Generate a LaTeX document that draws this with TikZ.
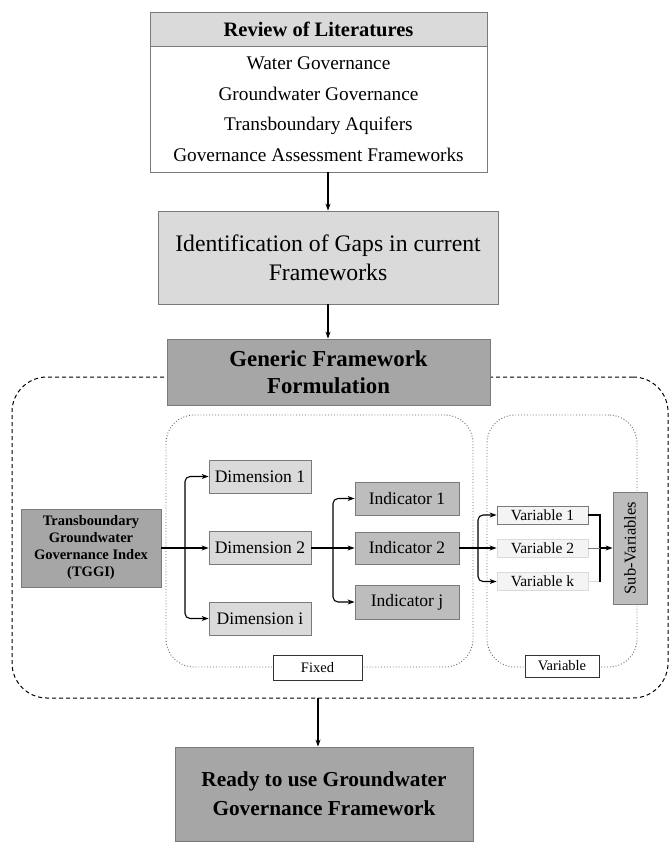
\documentclass[tikz,border=0pt]{standalone}
\usepackage{fontspec}
\setmainfont{Liberation Serif}
\usetikzlibrary{arrows.meta}
\definecolor{gLight}{HTML}{DADADA}
\definecolor{gMid}{HTML}{BDBDBD}
\definecolor{gDark}{HTML}{A6A6A6}
\definecolor{gPale}{HTML}{F4F4F4}
\definecolor{gLine}{HTML}{7A7A7A}
\begin{document}
\begin{tikzpicture}[x=1pt,y=-1pt,
  box/.style={draw=gLine, line width=0.8pt, inner sep=0pt, align=center, text=black},
  arr/.style={-{Stealth[length=7pt,width=5pt]}, line width=1.1pt},
  ln/.style={line width=1.1pt},
  fs/.style={font=\fontsize{#1}{20}\selectfont}
]
\useasboundingbox (0,0) rectangle (670,843);

% Outer dashed frame
\node[draw=black, line width=1pt, dash pattern=on 4pt off 3pt, rounded corners=35pt,
      minimum width=656pt, minimum height=321pt, inner sep=0pt] (outer) at (340,537.5) {};
% Inner dotted frames
\node[draw=black!60, line width=0.9pt, dotted, rounded corners=28pt,
      minimum width=307pt, minimum height=252pt, inner sep=0pt] (fixedframe) at (319.5,541) {};
\node[draw=black!60, line width=0.9pt, dotted, rounded corners=28pt,
      minimum width=150pt, minimum height=252pt, inner sep=0pt] (varframe) at (562,541) {};

% Review of literatures
\node[box, fill=gLight, minimum width=337pt, minimum height=34pt,
      font=\fontsize{20.5}{22}\selectfont\bfseries] (rev) at (318.5,29) {Review of Literatures};
\node[box, fill=white, minimum width=337pt, minimum height=126pt,
      font=\fontsize{19.3}{30.5}\selectfont] (revb) at (318.5,109)
  {Water Governance\\Groundwater Governance\\Transboundary Aquifers\\Governance Assessment Frameworks};

% Identification
\node[box, fill=gLight, minimum width=340pt, minimum height=93pt,
      font=\fontsize{23.7}{29}\selectfont] (ident) at (328,257.5)
  {Identification of Gaps in current\\Frameworks};

% Generic
\node[box, fill=gDark, minimum width=323pt, minimum height=66pt,
      font=\fontsize{22.8}{27}\selectfont\bfseries] (gen) at (328.5,372)
  {Generic Framework\\Formulation};

% TGGI
\node[box, fill=gDark, minimum width=140pt, minimum height=78pt,
      font=\fontsize{14.5}{17}\selectfont\bfseries] (tggi) at (91,548)
  {Transboundary\\Groundwater\\Governance Index\\(TGGI)};

% Dimensions
\node[box, fill=gLight, minimum width=102pt, minimum height=33pt, fs=17.6] (d1) at (260,476.5) {Dimension 1};
\node[box, fill=gLight, minimum width=102pt, minimum height=33pt, fs=17.6] (d2) at (260,548) {Dimension 2};
\node[box, fill=gLight, minimum width=102pt, minimum height=33pt, fs=17.6] (di) at (260,618.5) {Dimension i};

% Indicators
\node[box, fill=gMid, minimum width=104pt, minimum height=33pt, fs=17.5] (i1) at (407,498.5) {Indicator 1};
\node[box, fill=gMid, minimum width=104pt, minimum height=32pt, fs=17.5] (i2) at (407,548) {Indicator 2};
\node[box, fill=gMid, minimum width=104pt, minimum height=34pt, fs=17.5] (ij) at (407,602) {Indicator j};

% Variables
\node[box, fill=gPale, minimum width=91pt, minimum height=18pt, fs=15.5] (v1) at (542.5,515) {Variable 1};
\node[box, draw=gLight, fill=gPale, minimum width=91pt, minimum height=18pt, fs=15.5] (v2) at (542.5,548) {Variable 2};
\node[box, draw=gLight, fill=gPale, minimum width=91pt, minimum height=18pt, fs=15.5] (vk) at (542.5,581.5) {Variable k};

% Sub-variables
\node[box, fill=gMid, minimum width=34pt, minimum height=112pt] (sub) at (630,548)
  {\rotatebox{90}{\fontsize{16.5}{20}\selectfont Sub-Variables}};

% Labels
\node[box, draw=black!80, fill=white, minimum width=89pt, minimum height=25pt, fs=14.5] (fixedlbl) at (317.5,667.5) {Fixed};
\node[box, draw=black!80, fill=white, minimum width=74pt, minimum height=22pt, fs=14.5] (varlbl) at (562,666) {Variable};

% Ready
\node[box, fill=gDark, minimum width=298pt, minimum height=94pt,
      font=\fontsize{21.3}{29}\selectfont\bfseries] (ready) at (324,794)
  {Ready to use Groundwater\\Governance Framework};

% Main flow arrows
\draw[arr] (revb.south -| ident.north) -- (ident.north);
\draw[arr] (ident.south) -- (ident.south |- gen.north);
\coordinate (oa) at (318,698);
\draw[arr] (oa) -- (oa |- ready.north);

% TGGI -> dimensions
\coordinate (b1) at (185,548);
\draw[ln] (tggi.east) -- (b1);
\draw[arr, rounded corners=5pt] (b1) |- (d1.west);
\draw[arr] (b1) -- (d2.west);
\draw[arr, rounded corners=5pt] (b1) |- (di.west);

% Dimension 2 -> indicators
\coordinate (b2) at (333,548);
\draw[ln] (d2.east) -- (b2);
\draw[arr, rounded corners=5pt] (b2) |- (i1.west);
\draw[arr] (b2) -- (i2.west);
\draw[arr, rounded corners=5pt] (b2) |- (ij.west);

% Indicator 2 -> variables
\coordinate (b3) at (478,548);
\draw[ln] (i2.east) -- (b3);
\draw[arr, rounded corners=5pt] (b3) |- (v1.west);
\draw[arr] (b3) -- (v2.west);
\draw[arr, rounded corners=5pt] (b3) |- (vk.west);

% Variables -> sub-variables
\coordinate (b4) at (600,548);
\draw[ln] (v1.east) -| (b4);
\draw[line width=1pt, gLight] (vk.east) -- (vk.east -| b4);
\draw[ln] (b4) -- (vk.east -| b4);
\draw[line width=0.6pt, gLine] (v2.east) -- (b4);
\draw[arr] (b4) -- (sub.west);
\end{tikzpicture}
\end{document}
